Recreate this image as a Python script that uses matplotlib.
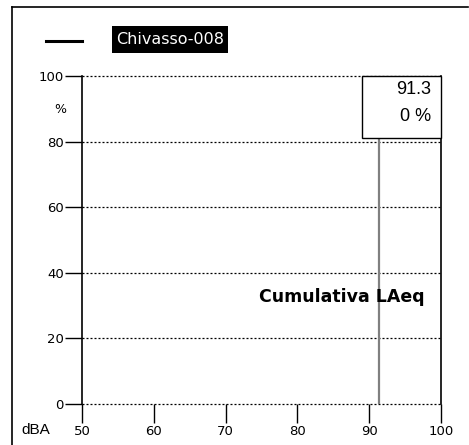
import matplotlib
matplotlib.use("Agg")
import matplotlib.pyplot as plt
from matplotlib.patches import Rectangle
from matplotlib.lines import Line2D

series_name = "Chivasso-008"
x_ticks = [50, 60, 70, 80, 90, 100]
y_ticks = [0, 20, 40, 60, 80, 100]
laeq_value = [91.3]
laeq_percent = [0]
chart_title = "Cumulativa LAeq"

W, H = 469, 445
fig = plt.figure(figsize=(W / 100, H / 100), dpi=100)
fig.patch.set_facecolor("white")

def fx(px):
    return px / W

def fy(py):
    return 1 - py / H

# frame lines of the figure (top and left)
fig.add_artist(Line2D([fx(12), fx(468)], [fy(7), fy(7)], color="black", lw=1.2, transform=fig.transFigure))
fig.add_artist(Line2D([fx(12), fx(12)], [fy(7), fy(445)], color="black", lw=1.2, transform=fig.transFigure))

ax = fig.add_axes([fx(82), fy(404), fx(441) - fx(82), fy(76) - fy(404)])
ax.set_xlim(x_ticks[0], x_ticks[-1])
ax.set_ylim(y_ticks[0], y_ticks[-1])
ax.set_xticks(x_ticks)
ax.set_yticks(y_ticks)
ax.set_xticklabels([str(v) for v in x_ticks], fontsize=9.5, family="DejaVu Sans")
ax.set_yticklabels([str(v) for v in y_ticks], fontsize=9.5, family="DejaVu Sans")
ax.tick_params(axis="x", length=14, width=1, pad=1)
ax.tick_params(axis="y", length=12, width=1, pad=1)
for s in ["top", "bottom"]:
    ax.spines[s].set_visible(False)
for s in ["left", "right"]:
    ax.spines[s].set_linewidth(1.2)
for yv in y_ticks:
    ax.axhline(yv, color="black", lw=0.9, ls=(0, (1.6, 1.6)), zorder=1, clip_on=False)

# box with value
bx0 = 89.0
by0 = 81.2
ax.add_patch(Rectangle((bx0, by0), 100 - bx0, 100 - by0, facecolor="white", edgecolor="black", lw=1, zorder=3, clip_on=False))
ax.text(98.6, 95.9, f"{laeq_value[0]}", ha="right", va="center", fontsize=13, family="Liberation Sans", zorder=4)
ax.text(98.6, 87.7, f"{laeq_percent[0]} %", ha="right", va="center", fontsize=13, family="Liberation Sans", zorder=4)

# vertical line
ax.vlines(laeq_value, laeq_percent[0], by0, color="#808080", lw=1.6, zorder=2)

ax.text(0.953, 0.326, chart_title, transform=ax.transAxes, ha="right", va="center",
        fontsize=12.5, fontweight="bold", family="DejaVu Sans", zorder=5)

# axis unit labels
fig.text(fx(36), fy(430), "dBA", ha="center", va="center", fontsize=11, family="Liberation Sans")
fig.text(fx(60), fy(109), "%", ha="center", va="center", fontsize=9, family="DejaVu Sans")

# legend
fig.add_artist(Line2D([fx(46), fx(82)], [fy(41), fy(41)], color="black", lw=2.2, transform=fig.transFigure))
fig.add_artist(Rectangle((fx(112), fy(53)), fx(228) - fx(112), fy(26) - fy(53), facecolor="black",
                         edgecolor="none", transform=fig.transFigure))
fig.text(fx(170), fy(40), series_name, ha="center", va="center", fontsize=11.5, color="white",
         family="DejaVu Sans")

fig.savefig("out.png", dpi=100)
